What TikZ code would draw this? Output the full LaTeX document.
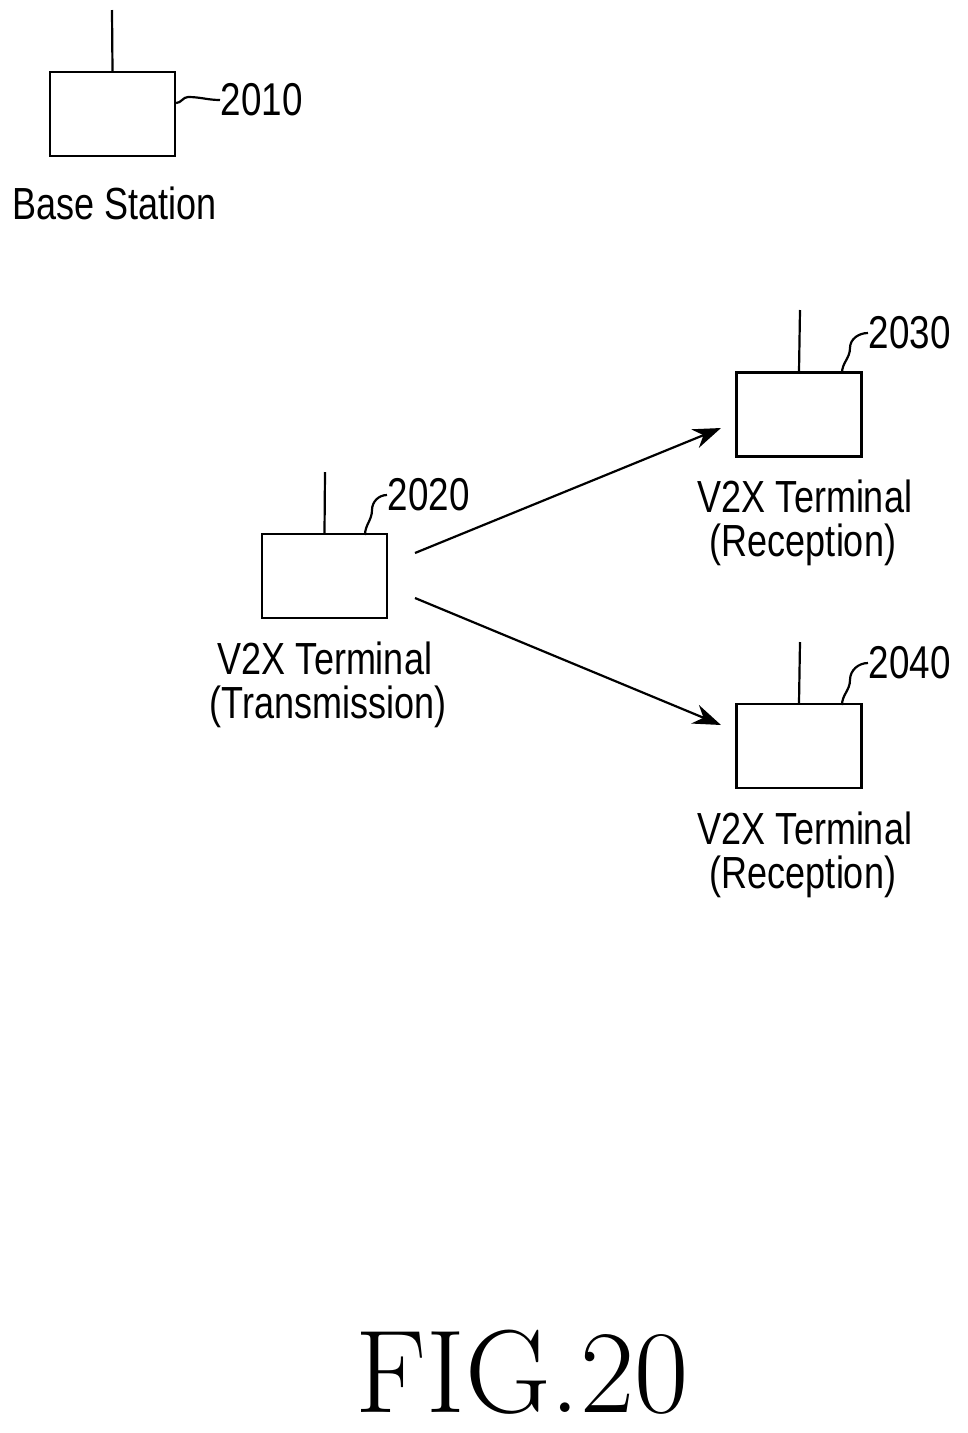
\documentclass[tikz,border=0pt]{standalone}
\usepackage{fontspec}
\setsansfont{Liberation Sans}
\usetikzlibrary{arrows.meta}
\begin{document}
\begin{tikzpicture}[x=1pt,y=-1pt,line width=2.2pt,
  dev/.style={draw,minimum width=125pt,minimum height=84pt,inner sep=0pt},
  lbl/.style={font=\sffamily\fontsize{45}{50}\selectfont,xscale=0.8,inner sep=0pt},
  ref/.style={font=\sffamily\fontsize{46}{50}\selectfont,xscale=0.8,inner sep=0pt,anchor=west},
  arr/.style={-{Stealth[length=28pt,width=20pt]}}]
\useasboundingbox (0,0) rectangle (967,1433);
% base station
\node[dev] (bs) at (112.5,114) {};
\coordinate (bsa) at (112,10);
\draw (bs.north) -- (bsa);
\node[ref] (r2010) at (220,100) {2010};
\draw (bs.east) ++(0,-11) to[out=0,in=180] ++(12,-6) to[out=0,in=180] (r2010.west);
\node[lbl] (bst) at (115,203) {Base Station};
% transmitter
\node[dev] (tx) at (324.5,576) {};
\coordinate (txa) at (325,472);
\draw (tx.north) -- (txa);
\node[ref] (r2020) at (387,495) {2020};
\draw (365,535) to[out=90,in=270] (372,510) to[out=90,in=180] (r2020.west);
\node[lbl] (txt1) at (325,658) {V2X Terminal};
\node[lbl] (txt2) at (328,707) {(Transmission)};
% rx1
\node[dev] (rx1) at (799,414.5) {};
\coordinate (rx1a) at (800,310);
\draw (rx1.north) -- (rx1a);
\node[ref] (r2030) at (868,333) {2030};
\draw (842,373) to[out=90,in=270] (850,348) to[out=90,in=180] (r2030.west);
\node[lbl] (rx1t1) at (805,496) {V2X Terminal};
\node[lbl] (rx1t2) at (803,545) {(Reception)};
% rx2
\node[dev] (rx2) at (799,746) {};
\coordinate (rx2a) at (800,642);
\draw (rx2.north) -- (rx2a);
\node[ref] (r2040) at (868,663) {2040};
\draw (842,705) to[out=90,in=270] (850,680) to[out=90,in=180] (r2040.west);
\node[lbl] (rx2t1) at (805,828) {V2X Terminal};
\node[lbl] (rx2t2) at (803,877) {(Reception)};
% arrows
\coordinate (s1) at (415,553);
\coordinate (s2) at (415,598);
\coordinate (e1) at (721,428);
\coordinate (e2) at (721,725);
\draw[arr] (s1) -- (e1);
\draw[arr] (s2) -- (e2);
\node[font=\fontsize{118}{120}\selectfont,inner sep=0pt] (fig) at (522,1372) {FIG.20};
\end{tikzpicture}
\end{document}
